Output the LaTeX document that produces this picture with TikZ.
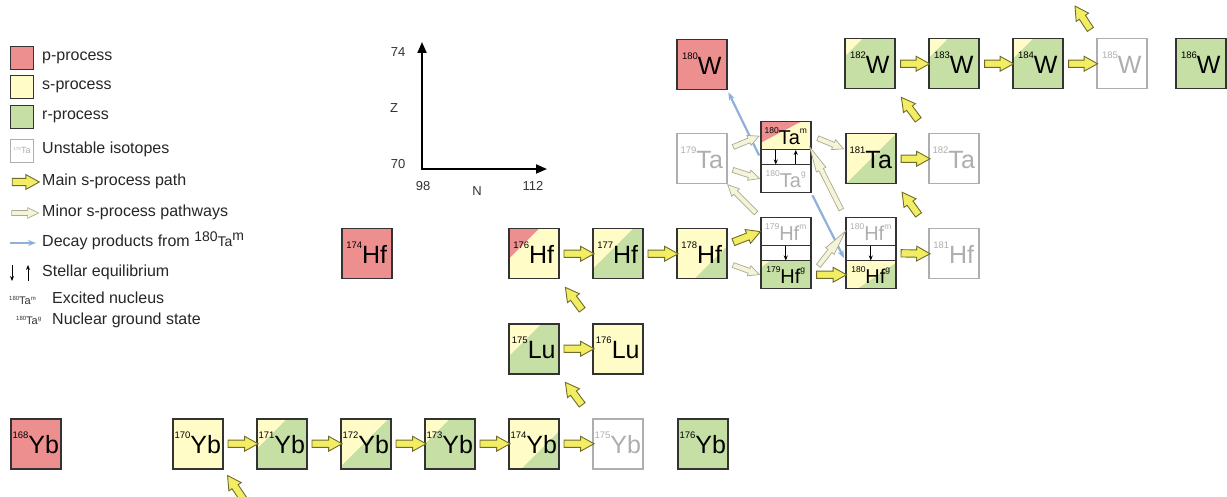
\documentclass[tikz,border=0pt]{standalone}
\usepackage{fontspec}
\setmainfont{Liberation Sans}
\usetikzlibrary{shapes.arrows,calc,arrows.meta}

\definecolor{pcol}{HTML}{EE8F8F}
\definecolor{scol}{HTML}{FFFCC8}
\definecolor{rcol}{HTML}{C5DFA4}
\definecolor{edge}{HTML}{333333}
\definecolor{ghost}{HTML}{AEAEAE}
\definecolor{mainfill}{HTML}{F2ED63}
\definecolor{mainedge}{HTML}{6F6B2B}
\definecolor{minorfill}{HTML}{F5F4D8}
\definecolor{minoredge}{HTML}{A9A995}
\definecolor{decay}{HTML}{8DB1DB}

% isotope label: mass number raised before the symbol
\newcommand\nuc[2]{\raisebox{15pt}{\fontsize{9.5}{10}\selectfont #1}{\fontsize{25}{25}\selectfont #2}}
% label of one level of a split box (isomer / ground state)
\newcommand\nucp[3]{\raisebox{11pt}{\fontsize{8.5}{9}\selectfont #1}{\fontsize{20}{20}\selectfont #2}\raisebox{11pt}{\fontsize{8.5}{9}\selectfont #3}}
% small label used as a legend icon
\newcommand\nucs[3]{\raisebox{4pt}{\fontsize{6}{6}\selectfont #1}{\fontsize{11}{11}\selectfont #2}\raisebox{4pt}{\fontsize{6}{6}\selectfont #3}}
% block arrow of a given length, centred between two points and aligned with them
\newcommand\blk[4]{%
  \path let \p1=(#2), \p2=(#3), \n1={atan2(\y2-\y1,\x2-\x1)} in
    node[#1, minimum height=#4, rotate=\n1] at ($(\p1)!0.5!(\p2)$) {};%
}

\begin{document}
\begin{tikzpicture}[x=1pt,y=-1pt,
  box/.style={draw=edge,line width=1.5pt,minimum width=50,minimum height=50,
    inner sep=0pt,text height=20,text depth=0,anchor=north west},
  part/.style={draw=edge,line width=1.5pt,minimum width=50,minimum height=28,
    inner sep=0pt,text height=17,text depth=0,anchor=north west,fill=white},
  band/.style={draw=edge,line width=1.5pt,minimum width=50,minimum height=15,
    inner sep=0pt,anchor=north west,fill=white},
  pbox/.style={fill=pcol},
  sbox/.style={fill=scol},
  rbox/.style={fill=rcol},
  unst/.style={draw=ghost,text=ghost,fill=white},
  faint/.style={text=ghost},
  mix/.style n args={3}{path picture={\fill[#1] (path picture bounding box.north west) -- +(#2,0) -- +(0,#3) -- cycle;}},
  sr/.style={fill=rcol,mix={scol}{#1*50}{#1*50}},
  mainarr/.style={single arrow,draw=mainedge,fill=mainfill,line width=0.9pt,
    inner xsep=0pt,inner ysep=3.2pt,single arrow head extend=3.8pt,
    single arrow tip angle=58},
  minorarr/.style={single arrow,draw=minoredge,fill=minorfill,line width=0.7pt,
    inner xsep=0pt,inner ysep=2.2pt,single arrow head extend=2.8pt,
    single arrow tip angle=52},
  minorlong/.style={minorarr,single arrow tip angle=24},
  decayarr/.style={draw=decay,line width=2.2pt,shorten <=2pt,shorten >=2pt,
    -{Stealth[length=8pt,width=6pt]}},
  eq/.style={line width=1pt,-{Stealth[length=5pt,width=4pt]}},
  axisline/.style={line width=2pt,line join=miter,
    {Triangle[length=11pt,width=9pt]}-{Triangle[length=11pt,width=9pt]}},
  axlab/.style={font=\fontsize{13}{13}\selectfont,text=black!80},
  legbox/.style={draw=edge,line width=1.2pt,minimum size=23,inner sep=0pt,anchor=north west},
  leglab/.style={anchor=west,inner sep=0pt,text height=11.5,text depth=3.5,
    font=\fontsize{16}{16}\selectfont,text=black!85},
]
\useasboundingbox (0,0) rectangle (1227,497);

% ---------------- legend ----------------
\node[legbox,pbox] (lp) at (10,46) {};
\node[leglab] (lpt) at (42,57) {p-process};
\node[legbox,sbox] (ls) at (10,75) {};
\node[leglab] (lst) at (42,86) {s-process};
\node[legbox,rbox] (lr) at (10,105) {};
\node[leglab] (lrt) at (42,116) {r-process};
\node[legbox,unst,line width=1pt,text height=6,text depth=0] (lu) at (10,139)
  {\raisebox{3.5pt}{\fontsize{4.5}{5}\selectfont 179}{\fontsize{9}{9}\selectfont Ta}};
\node[leglab] (lut) at (42,150) {Unstable isotopes};

\coordinate (lma) at (9,182);
\coordinate (lmb) at (36,182);
\blk{mainarr}{lma}{lmb}{27}
\node[leglab] (lmt) at (42,182) {Main s-process path};

\coordinate (lna) at (9,213);
\coordinate (lnb) at (36,213);
\blk{minorarr}{lna}{lnb}{27}
\node[leglab] (lnt) at (42,213) {Minor s-process pathways};

\coordinate (lda) at (8,243);
\coordinate (ldb) at (38,243);
\draw[decayarr] (lda) -- (ldb);
\node[leglab] (ldt) at (42,243) {Decay products from
  {\fontsize{14}{14}\selectfont\raisebox{5pt}{180}Ta\raisebox{6pt}{m}}};

\coordinate (lsa) at (12,265);
\coordinate (lsb) at (12,281);
\coordinate (lsc) at (28,281);
\coordinate (lsd) at (28,265);
\draw[eq] (lsa) -- (lsb);
\draw[eq] (lsc) -- (lsd);
\node[leglab] (lset) at (42,273) {Stellar equilibrium};

\node[anchor=west,inner sep=0pt,text=black!80] (lex) at (9,300) {\nucs{180}{Ta}{m}};
\node[leglab] (lext) at (52,300) {Excited nucleus};
\node[anchor=west,inner sep=0pt,text=black!80] (lgr) at (16,320) {\nucs{180}{Ta}{g}};
\node[leglab] (lgrt) at (52,320) {Nuclear ground state};

% ---------------- axes ----------------
\coordinate (org) at (422,169);
\coordinate (ztip) at (422,42);
\coordinate (ntip) at (547,169);
\draw[axisline] (ztip) -- (org) -- (ntip);
\node[axlab] (z74) at (398,52) {74};
\node[axlab] (zlab) at (394,108) {Z};
\node[axlab] (z70) at (398,164) {70};
\node[axlab] (n98) at (423,186) {98};
\node[axlab] (nlab) at (477,191) {N};
\node[axlab] (n112) at (533,186) {112};

% ---------------- Yb row (Z = 70) ----------------
\node[box,pbox] (yb168) at (10,418) {\nuc{168}{Yb}};
\node[box,sbox] (yb170) at (172,418) {\nuc{170}{Yb}};
\node[box,sr=0.6] (yb171) at (256,418) {\nuc{171}{Yb}};
\node[box,sr=0.95] (yb172) at (340,418) {\nuc{172}{Yb}};
\node[box,sr=0.5] (yb173) at (424,418) {\nuc{173}{Yb}};
\node[box,sr=1.25] (yb174) at (508,418) {\nuc{174}{Yb}};
\node[box,unst] (yb175) at (592,418) {\nuc{175}{Yb}};
\node[box,rbox] (yb176) at (677,418) {\nuc{176}{Yb}};

% ---------------- Lu row (Z = 71) ----------------
\node[box,sr=0.65] (lu175) at (508,323) {\nuc{175}{Lu}};
\node[box,sbox] (lu176) at (592,323) {\nuc{176}{Lu}};

% ---------------- Hf row (Z = 72) ----------------
\node[box,pbox] (hf174) at (341,228) {\nuc{174}{Hf}};
\node[box,sbox,mix={pcol}{30}{30}] (hf176) at (508,228) {\nuc{176}{Hf}};
\node[box,sr=0.8] (hf177) at (592,228) {\nuc{177}{Hf}};
\node[box,sr=1.35] (hf178) at (676,228) {\nuc{178}{Hf}};
\node[part,faint] (hf179m) at (760,217) {\nucp{179}{Hf}{m}};
\node[band] (hf179b) at (760,245) {};
\node[part,fill=rcol,mix={scol}{9}{7}] (hf179g) at (760,260) {\nucp{179}{Hf}{g}};
\node[part,faint] (hf180m) at (845,217) {\nucp{180}{Hf}{m}};
\node[band] (hf180b) at (845,245) {};
\node[part,fill=rcol,mix={scol}{53}{36}] (hf180g) at (845,260) {\nucp{180}{Hf}{g}};
\node[box,unst] (hf181) at (928,228) {\nuc{181}{Hf}};

% ---------------- Ta row (Z = 73) ----------------
\node[box,unst] (ta179) at (676,133) {\nuc{179}{Ta}};
\node[part,fill=scol,mix={pcol}{40}{21}] (ta180m) at (760,121) {\nucp{180}{Ta}{m}};
\node[band] (ta180b) at (760,149) {};
\node[part,faint] (ta180g) at (760,164) {\nucp{180}{Ta}{g}};
\node[box,sr=1.0] (ta181) at (845,133) {\nuc{181}{Ta}};
\node[box,unst] (ta182) at (928,133) {\nuc{182}{Ta}};

% ---------------- W row (Z = 74) ----------------
\node[box,pbox] (w180) at (676,39) {\nuc{180}{W}};
\node[box,sr=0.35] (w182) at (844,38) {\nuc{182}{W}};
\node[box,sr=0.38] (w183) at (928,38) {\nuc{183}{W}};
\node[box,sr=0.4] (w184) at (1012,38) {\nuc{184}{W}};
\node[box,unst] (w185) at (1096,38) {\nuc{185}{W}};
\node[box,rbox] (w186) at (1175,38) {\nuc{186}{W}};

% equilibrium arrows inside the split boxes
\draw[eq] ([xshift=-10pt,yshift=-1pt]ta180b.north) -- ([xshift=-10pt,yshift=1pt]ta180b.south);
\draw[eq] ([xshift=10pt,yshift=1pt]ta180b.south) -- ([xshift=10pt,yshift=-1pt]ta180b.north);
\draw[eq] ([yshift=-1pt]hf179b.north) -- ([yshift=1pt]hf179b.south);
\draw[eq] ([yshift=-1pt]hf180b.north) -- ([yshift=1pt]hf180b.south);

% decay of the long-lived isomer
\draw[decayarr] (ta180b.west) -- (w180.south east);
\draw[decayarr] (ta180g.south east) -- (hf180g.north west);

% main s-process path: neutron captures
\blk{mainarr}{yb170.east}{yb171.west}{30}
\blk{mainarr}{yb171.east}{yb172.west}{30}
\blk{mainarr}{yb172.east}{yb173.west}{30}
\blk{mainarr}{yb173.east}{yb174.west}{30}
\blk{mainarr}{yb174.east}{yb175.west}{30}
\blk{mainarr}{lu175.east}{lu176.west}{30}
\blk{mainarr}{hf176.east}{hf177.west}{30}
\blk{mainarr}{hf177.east}{hf178.west}{30}
\blk{mainarr}{hf178.20}{hf179m.west}{29}
\blk{mainarr}{hf179g.east}{hf180g.west}{30}
\blk{mainarr}{hf180b.east}{hf181.west}{29}
\blk{mainarr}{ta181.east}{ta182.west}{29}
\blk{mainarr}{w182.east}{w183.west}{29}
\blk{mainarr}{w183.east}{w184.west}{29}
\blk{mainarr}{w184.east}{w185.west}{29}

% main s-process path: beta decays
\coordinate (tm169) at (252,512);
\coordinate (re185) at (1073,3);
\blk{mainarr}{tm169}{yb170.south east}{30}
\blk{mainarr}{yb175.north west}{lu175.south east}{28}
\blk{mainarr}{lu176.north west}{hf176.south east}{28}
\blk{mainarr}{hf181.north west}{ta181.south east}{28}
\blk{mainarr}{ta182.north west}{w182.south east}{28}
\blk{mainarr}{w185.north west}{re185}{28}

% minor branches
\blk{minorarr}{ta179.20}{ta180m.west}{28}
\blk{minorarr}{ta179.-20}{ta180g.west}{28}
\blk{minorarr}{hf178.-20}{hf179g.west}{28}
\blk{minorarr}{hf179m.north west}{ta179.south east}{40}
\blk{minorarr}{ta180m.east}{ta181.160}{28}
\blk{minorlong}{hf180m.north west}{ta180m.south east}{70}
\blk{minorlong}{hf179g.east}{hf180m.west}{44}
\end{tikzpicture}
\end{document}
